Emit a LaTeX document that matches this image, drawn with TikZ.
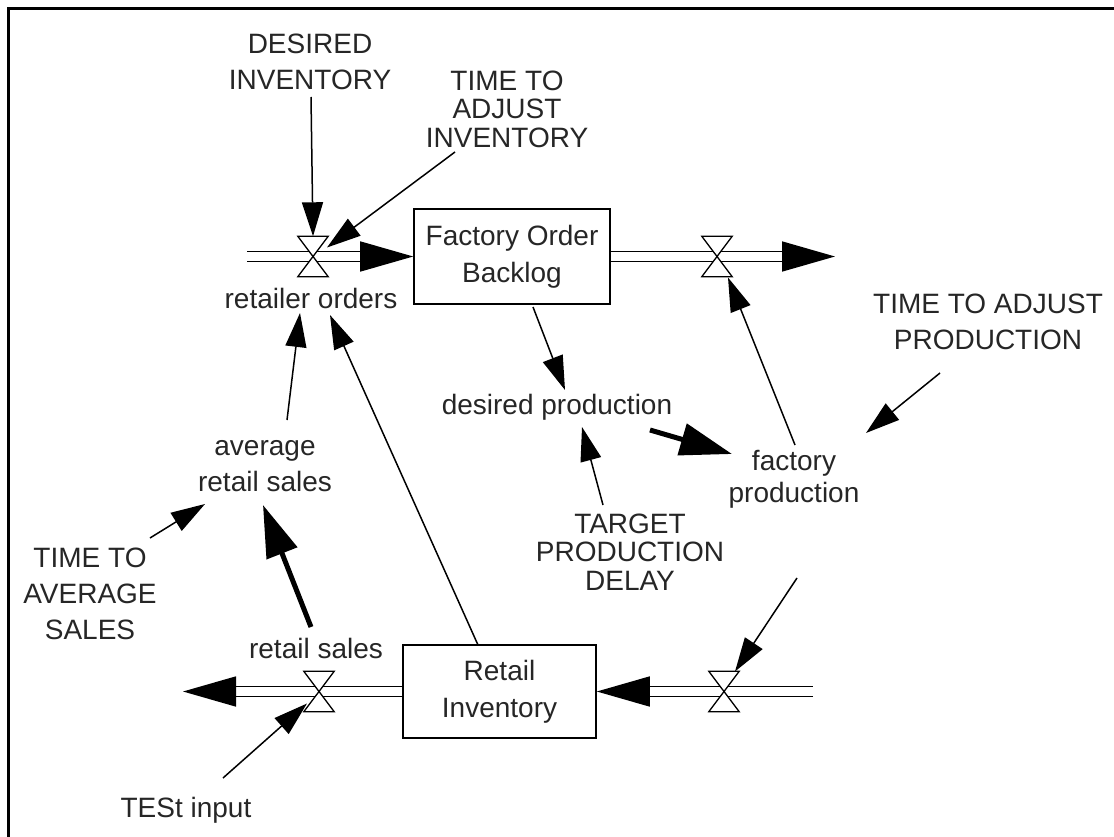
\documentclass[tikz,border=0pt]{standalone}
\usepackage{fontspec}
\setmainfont{Liberation Sans}
\usetikzlibrary{arrows.meta,calc}
\begin{document}
\begin{tikzpicture}[x=1pt,y=-1pt,
  lbl/.style={align=center,inner sep=1pt,text=black!85,font=\fontsize{28}{36}\selectfont},
  tightlbl/.style={font=\fontsize{28}{28.5}\selectfont},
  stock/.style={draw,line width=1.6pt,inner sep=0pt,align=center,text=black!85,font=\fontsize{28}{37}\selectfont},
  valve/.style={minimum width=30pt,minimum height=40pt,inner sep=0pt},
  bowtie/.style={draw,fill=white,line width=1.3pt},
  pipe/.style={draw,double=white,double distance=8.4pt,line width=1.6pt},
  pipehead/.style={-{Triangle[length=53pt,width=30pt]}},
  conn/.style={line width=1.5pt,-{Triangle[length=34pt,width=21pt]}},
  heavyconn/.style={line width=5pt,-{Triangle[length=52pt,width=32pt]}},
]
\useasboundingbox (0,0) rectangle (1114,837);
% frame
\draw[line width=3pt] (8,837) -- (8,9) -- (1114,9);

% stocks
\node[stock,minimum width=196pt,minimum height=95pt] (fob) at (512,256.5) {Factory Order\\Backlog};
\node[stock,minimum width=193pt,minimum height=93pt] (ri) at (499.5,691.5) {Retail\\Inventory};

% valves
\node[valve] (v1) at (313,256.5) {};
\node[valve] (v2) at (717,256.5) {};
\node[valve] (v3) at (319,691.5) {};
\node[valve] (v4) at (724,691.5) {};

% pipe ends
\coordinate (src1) at (247,256.5);
\coordinate (sink1) at (835,256.5);
\coordinate (src2) at (813,691.5);
\coordinate (sink2) at (183,691.5);

% flows
\draw[pipe,pipehead] (src1) -- (v1.center) -- (fob.west);
\draw[pipe,pipehead] (fob.east) -- (v2.center) -- (sink1);
\draw[pipe,pipehead] (src2) -- (v4.center) -- (ri.east);
\draw[pipe,pipehead] (ri.west) -- (v3.center) -- (sink2);

\foreach \v in {v1,v2,v3,v4}
  \draw[bowtie] (\v.north west) -- (\v.north east) -- (\v.south west) -- (\v.south east) -- cycle;

% variables
\node[lbl] (di) at (310,62) {DESIRED\\INVENTORY};
\node[lbl,tightlbl] (tai) at (507,109) {TIME TO\\ADJUST\\INVENTORY};
\node[lbl] (ro) at (311,298) {retailer orders};
\node[lbl] (tap) at (988,322) {TIME TO ADJUST\\PRODUCTION};
\node[lbl] (dp) at (557,407) {desired production};
\node[lbl] (ars) at (265,466) {average\\retail sales};
\node[lbl,font=\fontsize{28}{32}\selectfont] (fp) at (794,479) {factory\\production};
\node[lbl,tightlbl] (tpd) at (630,552) {TARGET\\PRODUCTION\\DELAY};
\node[lbl] (ttas) at (90,594) {TIME TO\\AVERAGE\\SALES};
\node[lbl] (rs) at (316,648) {retail sales};
\node[lbl] (ti) at (186,810) {TESt input};

% links
\draw[conn] ($(di.center)+(1,35)$) -- (v1.north);
\draw[conn] ($(tai.center)+(-52,43)$) -- ($(v1.center)+(14,-9)$);
\draw[conn] ($(fob.center)+(21,50.5)$) -- ($(dp.center)+(8,-17)$);
\draw[conn] ($(tpd.center)+(-27,-47)$) -- ($(dp.center)+(25,20)$);
\draw[heavyconn] ($(dp.center)+(93,23)$) -- ($(fp.center)+(-62,-25)$);
\draw[conn] ($(fp.center)+(1,-34)$) -- ($(v2.center)+(11,21)$);
\draw[conn] ($(tap.center)+(-48,51)$) -- ($(fp.center)+(72,-46)$);
\draw[conn] ($(fp.center)+(3,99)$) -- ($(v4.center)+(11,-20)$);
\draw[conn] ($(ri.center)+(-21.5,-46.5)$) -- ($(ro.center)+(19,17)$);
\draw[conn] ($(ars.center)+(22,-46)$) -- ($(ro.center)+(-11,15)$);
\draw[heavyconn] ($(rs.center)+(-5,-21)$) -- ($(ars.center)+(-2,39)$);
\draw[conn] ($(ttas.center)+(60,-56)$) -- ($(ars.center)+(-60,38)$);
\draw[conn] ($(ti.center)+(37,-32)$) -- ($(v3.center)+(-12,12)$);
\end{tikzpicture}
\end{document}
